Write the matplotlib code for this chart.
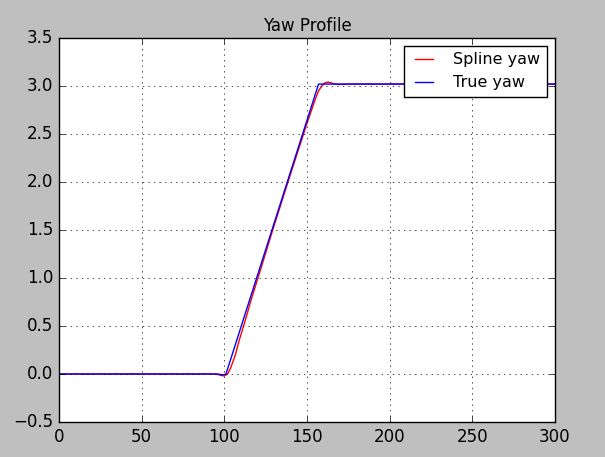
import matplotlib
matplotlib.use("Agg")
import matplotlib.pyplot as plt

plt.style.use("classic")

spline_x = [0, 92, 96, 98, 100, 102, 104, 106.7, 109, 112.7, 116, 120, 130, 140, 150, 155, 157, 159, 161, 163, 166, 169, 175, 300]
spline_y = [0.0, 0.0, -0.005, -0.015, -0.02, 0.0, 0.07, 0.2, 0.35, 0.56, 0.76, 0.98, 1.54, 2.08, 2.61, 2.86, 2.95, 3.0, 3.035, 3.04, 3.025, 3.015, 3.02, 3.02]
true_x = [0, 96, 99, 101, 157, 300]
true_y = [0.0, 0.0, -0.01, 0.0, 3.02, 3.02]

fig = plt.figure(figsize=(6.05, 4.57), dpi=100, facecolor="#bfbfbf")
ax = fig.add_axes([0.0975, 0.0766, 0.8198, 0.8403])
ax.plot(spline_x, spline_y, "r-", label="Spline yaw")
ax.plot(true_x, true_y, "b-", label="True yaw")
ax.set_xlim(0, 300)
ax.set_ylim(-0.5, 3.5)
ax.set_title("Yaw Profile", fontsize=12)
ax.grid(True)
ax.legend(loc="upper right", fontsize=11.5, handlelength=1.7, handletextpad=1.0)
fig.savefig("out.png", dpi=100, facecolor="#bfbfbf")
